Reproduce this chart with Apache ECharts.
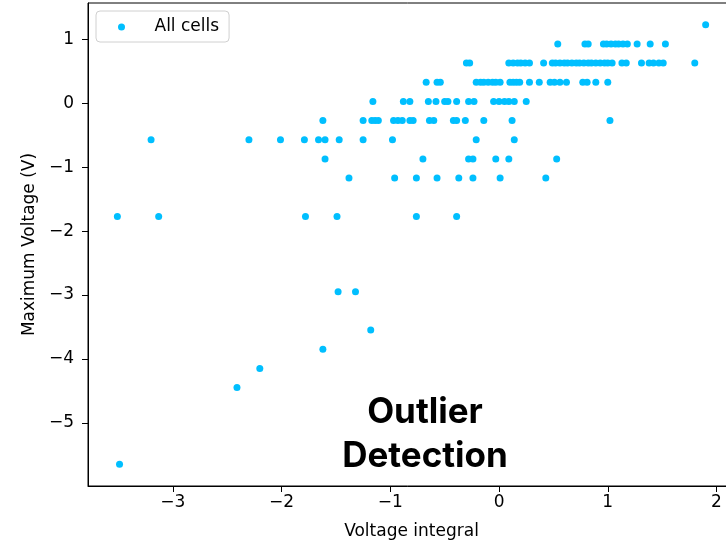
<!DOCTYPE html>
<html>
<head>
<meta charset="utf-8">
<script src="https://cdn.jsdelivr.net/npm/echarts@6/dist/echarts.min.js"></script>
<style>html,body{margin:0;padding:0;background:#fff}#c{width:726px;height:544px}</style>
</head>
<body>
<div id="c"></div>
<script>
// Maximum Voltage levels (V) and the Voltage integral values observed at each level
const voltageLevels = [1.23, 0.93, 0.63, 0.33, 0.03, -0.27, -0.57, -0.87, -1.17, -1.77, -2.95, -3.55, -3.85, -4.15, -4.45, -5.65];
const integrals_1_23 = [1.90];
const integrals_0_93 = [0.54, 0.79, 0.82, 0.96, 0.99, 1.03, 1.07, 1.10, 1.14, 1.18, 1.27, 1.39, 1.53];
const integrals_0_63 = [-0.30, -0.27, 0.09, 0.13, 0.17, 0.20, 0.24, 0.28, 0.41, 0.49, 0.52, 0.56, 0.60, 0.63, 0.67, 0.71, 0.74, 0.78, 0.82, 0.85, 0.89, 0.93, 0.97, 1.00, 1.04, 1.13, 1.17, 1.31, 1.38, 1.42, 1.47, 1.51, 1.80];
const integrals_0_33 = [-0.67, -0.57, -0.54, -0.21, -0.17, -0.14, -0.10, -0.06, -0.03, 0.01, 0.10, 0.13, 0.16, 0.19, 0.28, 0.37, 0.47, 0.51, 0.56, 0.62, 0.77, 0.81, 0.89, 1.00];
const integrals_0_03 = [-1.16, -0.88, -0.82, -0.65, -0.58, -0.50, -0.47, -0.39, -0.28, -0.23, -0.05, 0.00, 0.05, 0.09, 0.14, 0.25];
const integrals_m0_27 = [-1.62, -1.25, -1.17, -1.14, -1.11, -0.97, -0.93, -0.89, -0.82, -0.79, -0.64, -0.60, -0.42, -0.39, -0.31, -0.14, 0.12, 1.02];
const integrals_m0_57 = [-3.20, -2.30, -2.01, -1.79, -1.66, -1.60, -1.47, -1.25, -0.98, -0.21, 0.14];
const integrals_m0_87 = [-1.60, -0.70, -0.28, -0.24, -0.03, 0.09, 0.53];
const integrals_m1_17 = [-1.38, -0.96, -0.76, -0.57, -0.37, -0.24, 0.01, 0.43];
const integrals_m1_77 = [-3.51, -3.13, -1.78, -1.49, -0.76, -0.39];
const integrals_m2_95 = [-1.48, -1.32];
const integrals_m3_55 = [-1.18];
const integrals_m3_85 = [-1.62];
const integrals_m4_15 = [-2.20];
const integrals_m4_45 = [-2.41];
const integrals_m5_65 = [-3.49];
const integralsByLevel = [integrals_1_23, integrals_0_93, integrals_0_63, integrals_0_33, integrals_0_03,
  integrals_m0_27, integrals_m0_57, integrals_m0_87, integrals_m1_17, integrals_m1_77,
  integrals_m2_95, integrals_m3_55, integrals_m3_85, integrals_m4_15, integrals_m4_45, integrals_m5_65];
const xTicks = [-3, -2, -1, 0, 1, 2];
const yTicks = [-5, -4, -3, -2, -1, 0, 1];
const seriesName = 'All cells';

const points = [];
voltageLevels.forEach((v, i) => integralsByLevel[i].forEach(x => points.push([x, v])));

const FONT = 'DejaVu Sans';
const minus = v => String(v).replace('-', '\u2212');

const chart = echarts.init(document.getElementById('c'), null, {renderer: 'canvas'});
chart.setOption({
  animation: false,
  backgroundColor: '#fff',
  grid: {left: 88, width: 647, top: 3, height: 483, outerBoundsMode: 'none', containLabel: false,
         show: true, borderColor: '#000', borderWidth: 1, backgroundColor: 'transparent'},
  legend: {
    left: 96, top: 11, orient: 'vertical',
    data: [seriesName],
    icon: 'circle', itemWidth: 28, itemHeight: 7,
    padding: [6, 10, 5, 22],
    borderColor: '#d0d0d0', borderWidth: 1, borderRadius: 4,
    backgroundColor: '#fff',
    textStyle: {fontFamily: FONT, fontSize: 17, color: '#000', padding: [0, 0, 0, 14], lineHeight: 20}
  },
  xAxis: {
    type: 'value', min: -3.78, max: 2.17,
    name: 'Voltage integral', nameLocation: 'middle', nameGap: 37,
    nameTextStyle: {fontFamily: FONT, fontSize: 17, color: '#000'},
    splitLine: {show: false},
    axisLine: {show: true, onZero: false, lineStyle: {color: '#000', width: 1}},
    axisTick: {show: true, length: 6, lineStyle: {color: '#000'}, customValues: xTicks},
    axisLabel: {fontFamily: FONT, fontSize: 17, color: '#000', margin: 8, customValues: xTicks, formatter: minus}
  },
  yAxis: {
    type: 'value', min: -5.99, max: 1.57,
    name: 'Maximum Voltage (V)', nameLocation: 'middle', nameGap: 45,
    nameTextStyle: {fontFamily: FONT, fontSize: 17, color: '#000'},
    splitLine: {show: false},
    axisLine: {show: true, onZero: false, lineStyle: {color: '#000', width: 1}},
    axisTick: {show: true, length: 6, lineStyle: {color: '#000'}, customValues: yTicks},
    axisLabel: {fontFamily: FONT, fontSize: 17, color: '#000', margin: 14, customValues: yTicks, formatter: minus}
  },
  graphic: [{
    type: 'text', x: 425, y: 390, z: 100,
    style: {text: 'Outlier\nDetection', font: 'bold 35px Inter', fill: '#000', textAlign: 'center', textVerticalAlign: 'top', lineHeight: 44}
  }],
  series: [{
    name: seriesName, type: 'scatter', data: points,
    symbol: 'circle', symbolSize: 7,
    itemStyle: {color: '#00bfff', opacity: 1}
  }]
});
</script>
</body>
</html>
